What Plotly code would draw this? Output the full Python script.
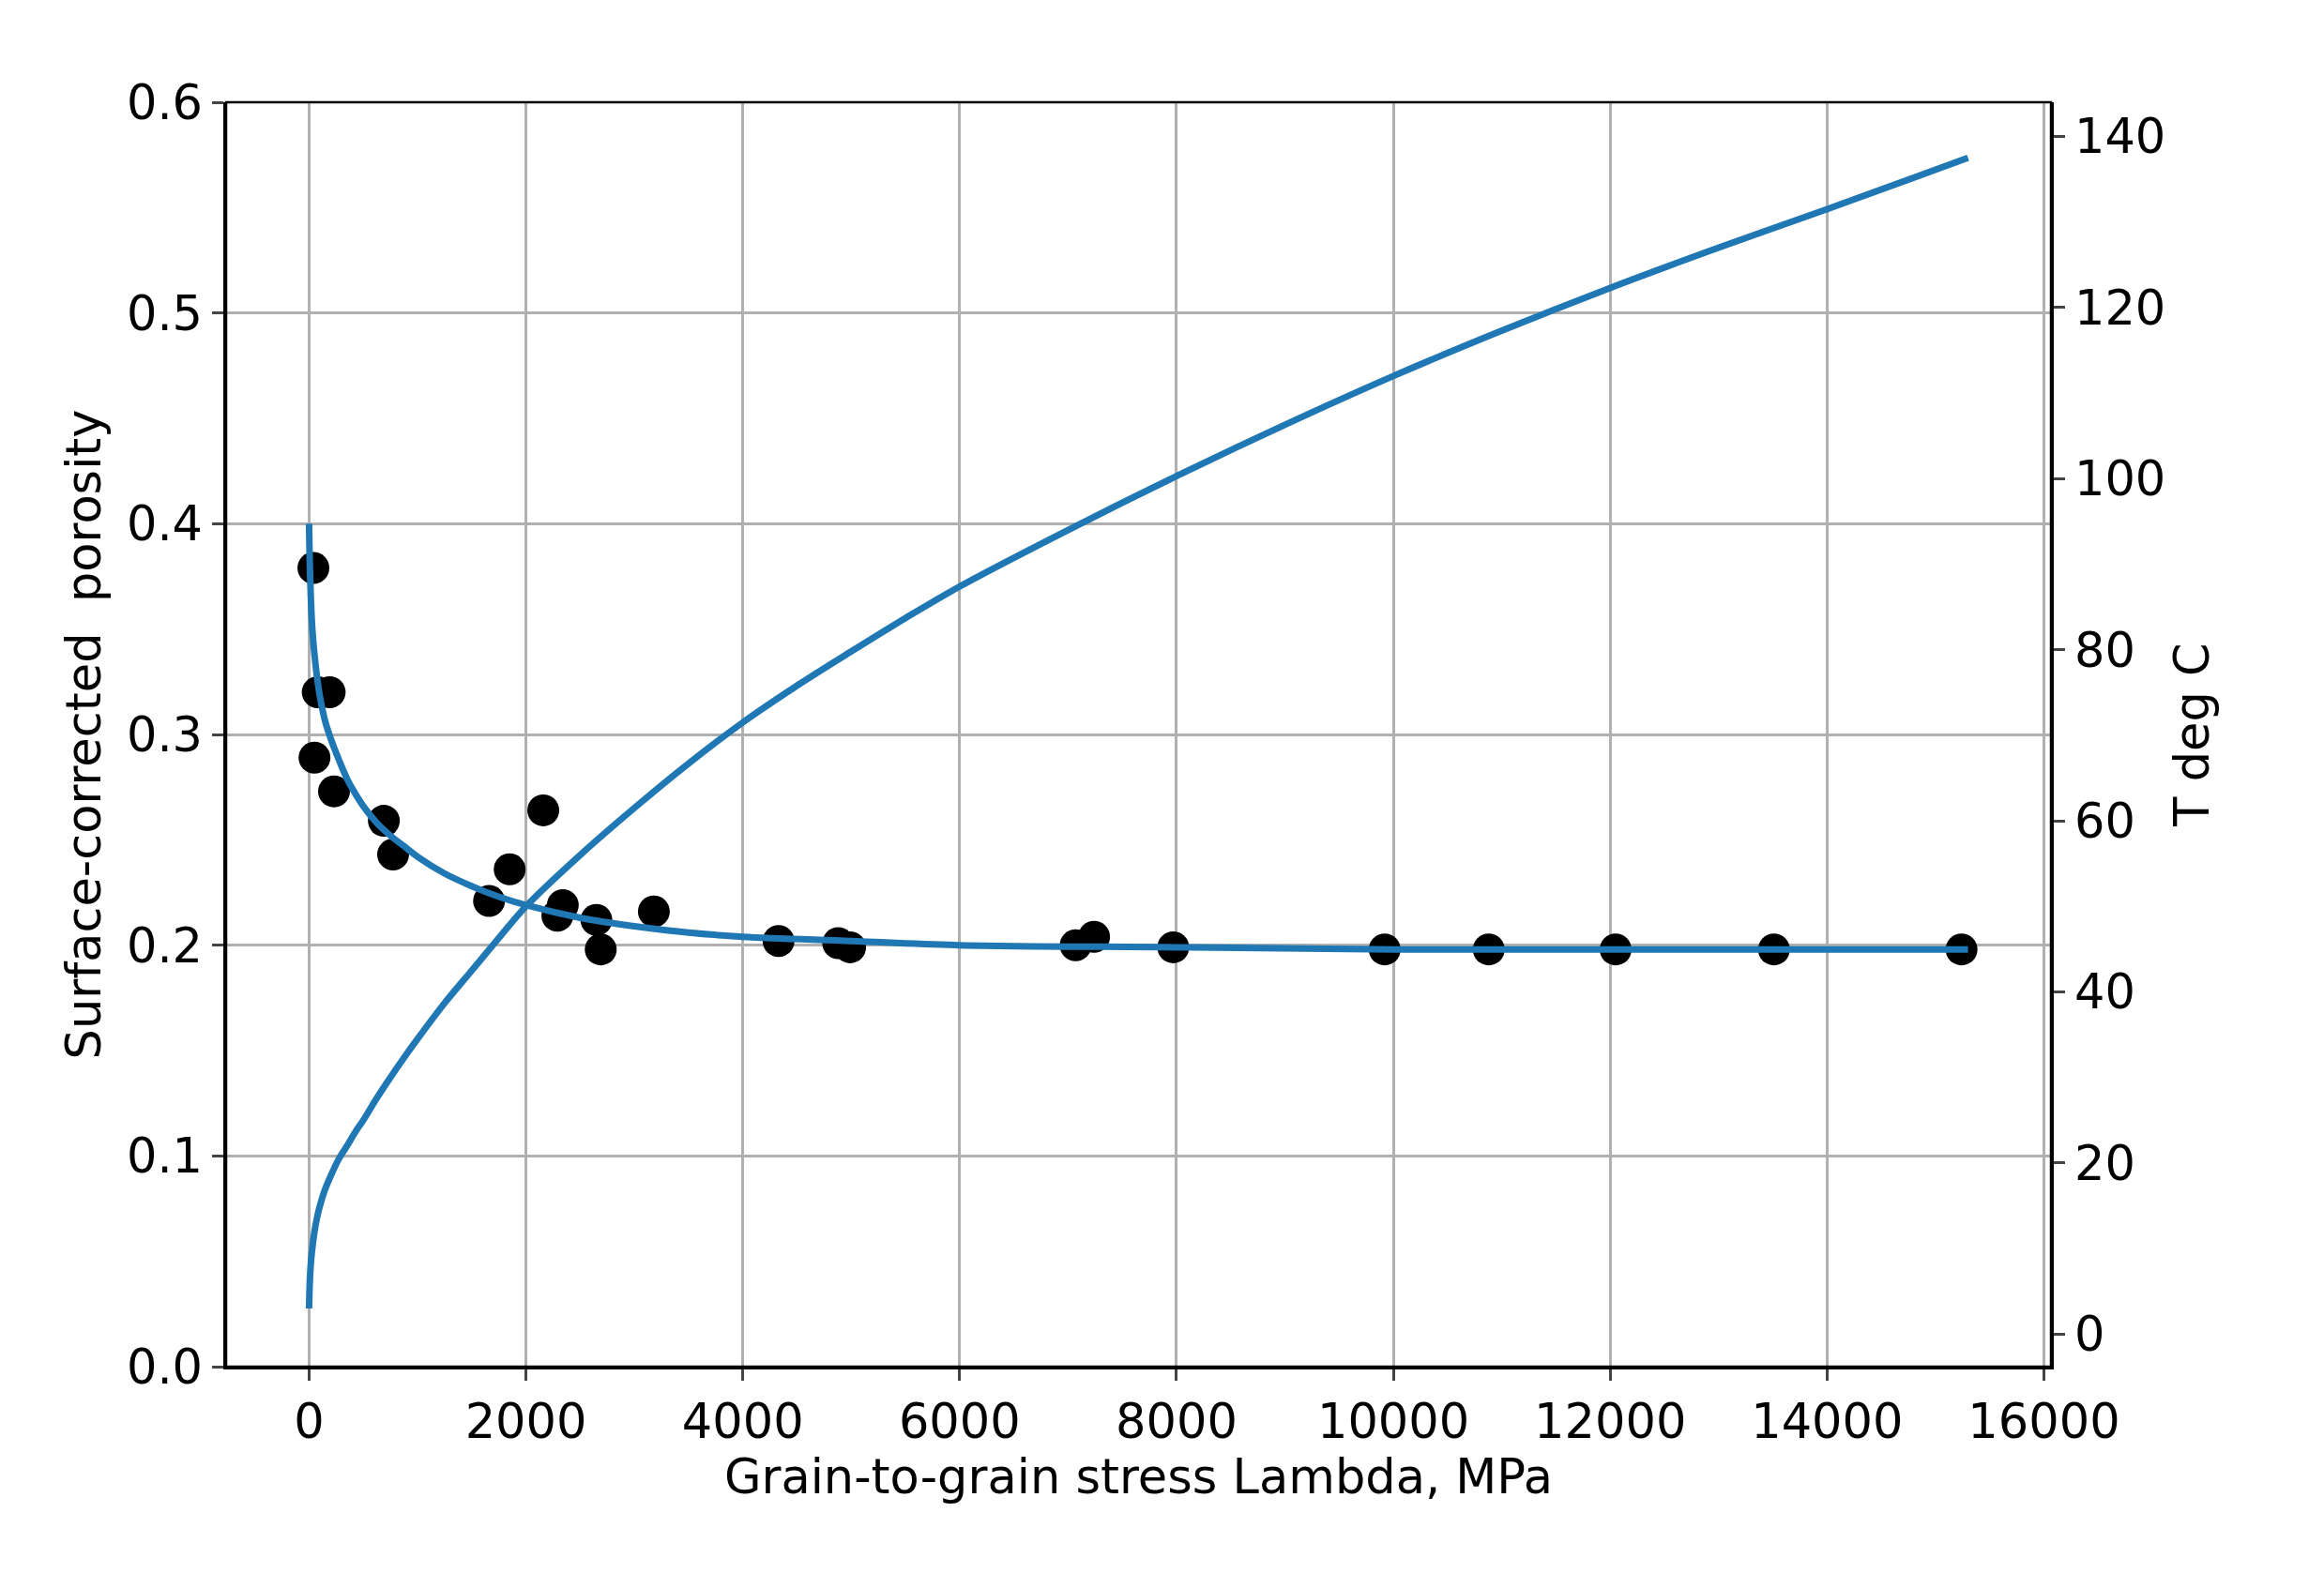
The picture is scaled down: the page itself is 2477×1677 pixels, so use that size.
import plotly.graph_objects as go

# measured points
stress = [40, 80, 190, 50, 230, 690, 775, 1660, 1850, 2160, 2290, 2340, 2650, 2690,
          3180, 4330, 4880, 4990, 7070, 7240, 7970, 9920, 10880, 12050, 13510, 15240]
porosity = [0.379, 0.320, 0.320, 0.289, 0.273, 0.259, 0.243, 0.221, 0.236, 0.264, 0.214,
            0.219, 0.212, 0.198, 0.216, 0.202, 0.201, 0.199, 0.200, 0.204, 0.199, 0.198,
            0.198, 0.198, 0.198, 0.198]

# fitted porosity curve
fit_x = [0, 10, 30, 60, 100, 150, 200, 275, 350, 425, 500, 625, 750, 875, 1000, 1250,
         1500, 1750, 2000, 2500, 3000, 3500, 4000, 5000, 6000, 8000, 10000, 12000, 15300]
fit_y = [0.400, 0.375, 0.350, 0.333, 0.318, 0.306, 0.298, 0.288, 0.279, 0.272, 0.266,
         0.258, 0.252, 0.247, 0.242, 0.234, 0.228, 0.223, 0.219, 0.213, 0.209, 0.206,
         0.204, 0.202, 0.200, 0.199, 0.198, 0.198, 0.198]

# temperature curve
temp_x = [0, 5, 10, 25, 50, 75, 100, 150, 200, 275, 350, 425, 500, 625, 750, 875, 1000,
          1250, 1500, 1750, 2000, 2500, 3000, 3500, 4000, 4500, 5000, 5500, 6000, 7000,
          8000, 9000, 10000, 11000, 12000, 13000, 14000, 15300]
temp_y = [3, 5.5, 7, 9.5, 12, 13.7, 15, 17, 18.5, 20.5, 22, 23.6, 25, 27.6, 30, 32.3,
          34.5, 38.7, 42.5, 46.3, 50, 56, 61.5, 66.7, 71.5, 75.8, 79.8, 83.7, 87.4, 94,
          100.3, 106.3, 112, 117.3, 122.3, 127, 131.5, 137.5]

blue = '#1f77b4'
font = dict(family='DejaVu Sans', size=51, color='black')

fig = go.Figure()
fig.add_trace(go.Scatter(x=stress, y=porosity, mode='markers',
                         marker=dict(color='black', size=34), showlegend=False))
fig.add_trace(go.Scatter(x=fit_x, y=fit_y, mode='lines', line=dict(color=blue, width=7, shape='spline'),
                         showlegend=False))
fig.add_trace(go.Scatter(x=temp_x, y=temp_y, mode='lines', line=dict(color=blue, width=7, shape='spline'),
                         yaxis='y2', showlegend=False))

axis_common = dict(showline=True, linecolor='black', linewidth=2.5, mirror=False,
                   ticks='outside', ticklen=12, tickwidth=2.5, tickfont=font, zeroline=False)

fig.update_layout(
    width=2477, height=1677, plot_bgcolor='white', paper_bgcolor='white', font=font,
    margin=dict(l=233, r=299, t=101, b=228),
    xaxis=dict(range=[-765, 16065], dtick=2000, tickformat='d', showgrid=True,
               gridcolor='#b0b0b0', gridwidth=3,
               title=dict(text='Grain-to-grain stress Lambda, MPa', font=font, standoff=12),
               **axis_common),
    yaxis=dict(range=[0, 0.6], dtick=0.1, tickformat='.1f', showgrid=True,
               gridcolor='#b0b0b0', gridwidth=3,
               title=dict(text='Surface-corrected  porosity', font=font, standoff=12),
               **axis_common),
    yaxis2=dict(range=[-3.8, 144], dtick=20, overlaying='y', side='right', showgrid=False,
                title=dict(text='T deg C', font=font, standoff=12), **axis_common),
)
fig.add_shape(type='rect', xref='paper', yref='paper', x0=0, y0=0, x1=1, y1=1,
              line=dict(color='black', width=2.5))

fig.write_html('out.html')
